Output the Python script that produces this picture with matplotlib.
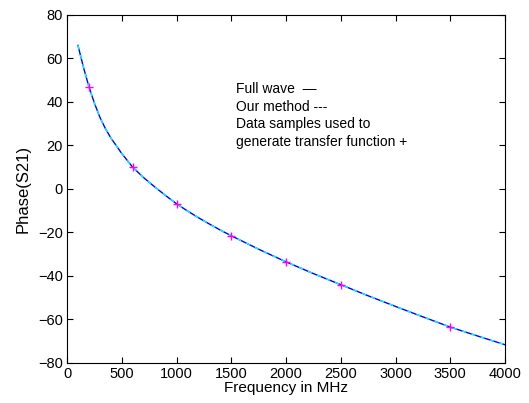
import matplotlib
matplotlib.use('Agg')
import matplotlib.pyplot as plt

plt.rcParams['font.family'] = ['Liberation Sans', 'DejaVu Sans']

# curve values
freq = [100, 150, 200, 250, 300, 350, 400, 500, 600, 700, 800, 900, 1000,
        1100, 1200, 1300, 1400, 1500, 1750, 2000, 2250, 2500, 2750, 3000,
        3250, 3500, 3750, 4000]
phase_full = [66, 56, 47, 39.5, 33, 27.8, 23.5, 16.3, 10, 5.2, 1, -3, -6.8,
              -10.1, -13.2, -16.1, -18.9, -21.5, -27.7, -33.5, -38.9, -44, -49.1, -54,
              -58.8, -63.5, -67.6, -71.6]
phase_ours = phase_full

# samples used for the transfer function
samp_freq = [200, 600, 1000, 1500, 2000, 2500, 3500]
samp_phase = [47, 10, -6.8, -21.5, -33.5, -44, -63.5]

fig = plt.figure(figsize=(5.29, 4.03), dpi=100)
ax = fig.add_axes([0.1267, 0.0993, 0.828, 0.8635])

ax.plot(freq, phase_full, color='#0000ff', lw=1.0)
ax.plot(freq, phase_ours, color='#00ffff', lw=1.0, ls=(0, (3, 4)))
ax.plot(samp_freq, samp_phase, '+', color='#ff00ff', ms=6, mew=1.0)

ax.set_xlim(0, 4000)
ax.set_ylim(-80, 80)
ax.set_xticks(range(0, 4001, 500))
ax.set_yticks(range(-80, 81, 20))
ax.set_yticklabels(['\u221280', '\u221260', '\u221240', '\u221220', '0',
                    '20', '40', '60', '80'])
ax.tick_params(direction='in', top=True, right=True, labelsize=10.5, length=4, pad=3)

ax.set_xlabel('Frequency in MHz', fontsize=11, labelpad=0)
ax.set_ylabel('Phase(S21)', fontsize=12, labelpad=5)

ax.text(1545, 18.5, 'Full wave  \u2014\nOur method ---\nData samples used to\ngenerate transfer function +',
        fontsize=10, va='bottom', ha='left', linespacing=1.32)

fig.savefig('out.png', dpi=100)
